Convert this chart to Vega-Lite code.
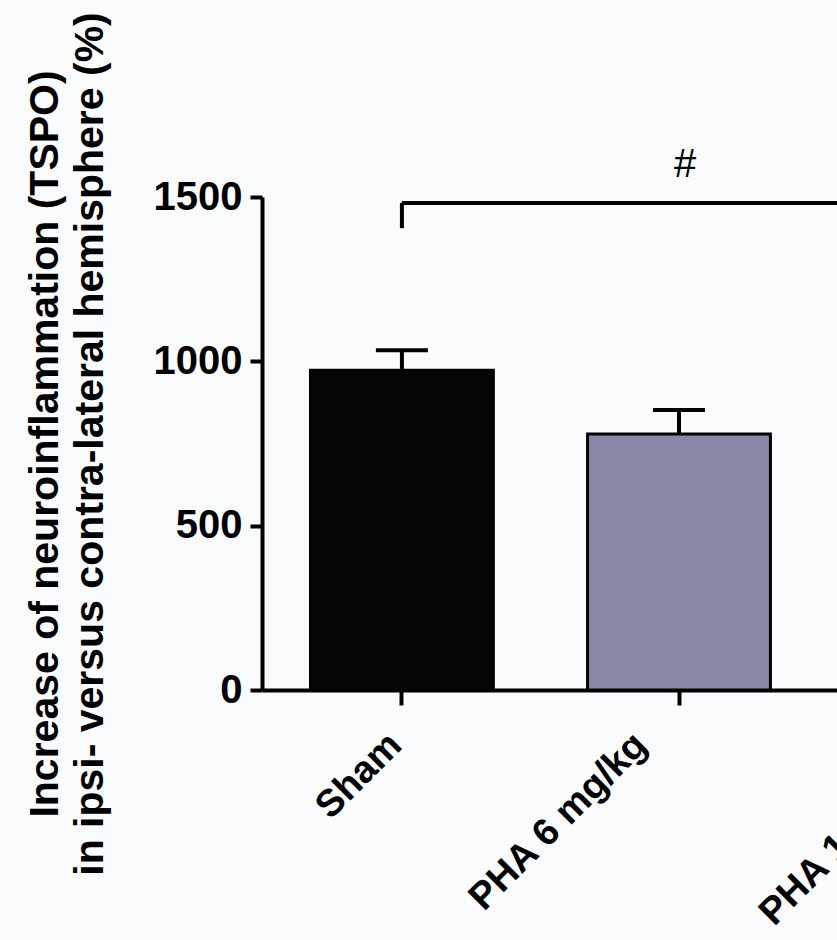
{
  "$schema": "https://vega.github.io/schema/vega-lite/v6.json",
  "autosize": {"type": "none"},
  "padding": {"left": 262, "top": 197, "right": 0, "bottom": 250},
  "width": 834,
  "height": 493,
  "background": "#fafbfd",
  "config": {
    "view": {"stroke": null},
    "font": "Liberation Sans"
  },
  "datasets": {
    "bars": [
      {"group": "Sham", "mean": 973, "upper": 1034},
      {"group": "PHA 6 mg/kg", "mean": 779, "upper": 852}
    ],
    "bracket": [
      {"from": "Sham", "to": "PHA 12 mg/kg", "y": 1482, "ybottom": 1405}
    ],
    "sig": [
      {"group": "PHA 6 mg/kg", "y": 1597, "label": "#"}
    ]
  },
  "encoding": {
    "x": {
      "field": "group",
      "type": "nominal",
      "sort": null,
      "scale": {"domain": ["Sham", "PHA 6 mg/kg", "PHA 12 mg/kg"], "paddingInner": 0.34, "paddingOuter": 0.175},
      "axis": {
        "title": null,
        "labelAngle": -45,
        "labelAlign": "right",
        "labelBaseline": "middle",
        "labelFontSize": 38,
        "labelFontWeight": "bold",
        "labelColor": "black",
        "labelLimit": 0,
        "labelPadding": 34,
        "labelOffset": {"condition": [{"test": "datum.value === 'Sham'", "value": -6}, {"test": "datum.value === 'PHA 6 mg/kg'", "value": -38}], "value": -10},
        "domainColor": "black",
        "domainWidth": 4,
        "tickColor": "black",
        "tickWidth": 4,
        "tickSize": 15
      }
    }
  },
  "layer": [
    {
      "data": {"name": "bars"},
      "mark": {"type": "bar", "stroke": "black", "strokeWidth": 3},
      "encoding": {
        "y": {
          "field": "mean",
          "type": "quantitative",
          "scale": {"domain": [0, 1500], "nice": false},
          "axis": {
            "values": [0, 500, 1000, 1500],
            "format": "d",
            "title": ["Increase of neuroinflammation (TSPO)", "in ipsi- versus contra-lateral hemisphere (%)"],
            "titleFontSize": 41,
            "titleFontWeight": "bold",
            "titleColor": "black",
            "titleLineHeight": 45,
            "titlePadding": 42,
            "labelFontSize": 40,
            "labelFontWeight": "bold",
            "labelColor": "black",
            "labelPadding": 8,
            "grid": false,
            "domainColor": "black",
            "domainWidth": 4,
            "tickColor": "black",
            "tickWidth": 4,
            "tickSize": 12
          }
        },
        "color": {
          "field": "group",
          "type": "nominal",
          "scale": {"domain": ["Sham", "PHA 6 mg/kg"], "range": ["#050505", "#8a88a9"]},
          "legend": null
        }
      }
    },
    {
      "data": {"name": "bars"},
      "mark": {"type": "rule", "strokeWidth": 4, "color": "black"},
      "encoding": {
        "y": {"field": "mean", "type": "quantitative"},
        "y2": {"field": "upper"}
      }
    },
    {
      "data": {"name": "bars"},
      "mark": {"type": "tick", "orient": "horizontal", "thickness": 4, "size": 52, "color": "black", "opacity": 1},
      "encoding": {
        "y": {"field": "upper", "type": "quantitative"}
      }
    },
    {
      "data": {"name": "bracket"},
      "mark": {"type": "rule", "strokeWidth": 4, "color": "black"},
      "encoding": {
        "x": {"field": "from", "type": "nominal"},
        "x2": {"field": "to"},
        "y": {"field": "y", "type": "quantitative"}
      }
    },
    {
      "data": {"name": "bracket"},
      "mark": {"type": "rule", "strokeWidth": 4, "color": "black"},
      "encoding": {
        "x": {"field": "from", "type": "nominal"},
        "y": {"field": "ybottom", "type": "quantitative"},
        "y2": {"field": "y"}
      }
    },
    {
      "data": {"name": "sig"},
      "mark": {"type": "text", "fontSize": 40, "color": "black", "dx": 6, "font": "Liberation Sans"},
      "encoding": {
        "x": {"field": "group", "type": "nominal"},
        "y": {"field": "y", "type": "quantitative"},
        "text": {"field": "label"}
      }
    }
  ]
}
